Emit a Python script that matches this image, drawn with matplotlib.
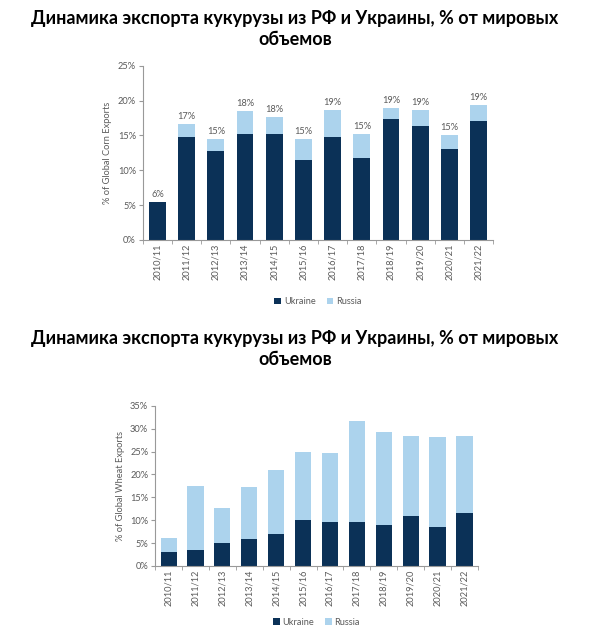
import matplotlib
matplotlib.use("Agg")
import matplotlib.pyplot as plt
import numpy as np

seasons = ["2010/11", "2011/12", "2012/13", "2013/14", "2014/15", "2015/16",
           "2016/17", "2017/18", "2018/19", "2019/20", "2020/21", "2021/22"]

# corn, % of global exports
corn_ukraine = [5.5, 14.7, 12.7, 15.2, 15.2, 11.4, 14.8, 11.7, 17.4, 16.4, 13.0, 17.1]
corn_russia = [0.0, 1.9, 1.8, 3.3, 2.5, 3.1, 3.9, 3.5, 1.6, 2.3, 2.1, 2.3]
corn_labels = ["6%", "17%", "15%", "18%", "18%", "15%", "19%", "15%", "19%", "19%", "15%", "19%"]

# wheat, % of global exports
wheat_ukraine = [3.1, 3.4, 4.9, 5.9, 6.9, 10.0, 9.7, 9.5, 8.9, 10.8, 8.4, 11.5]
wheat_russia = [2.9, 14.1, 7.8, 11.4, 14.1, 15.0, 15.0, 22.2, 20.3, 17.7, 19.8, 16.9]

title = "Динамика экспорта кукурузы из РФ и Украины, % от мировых\nобъемов"

DARK = "#0b3157"
LIGHT = "#acd3ed"
GRAY = "#5a5a5a"
FONT = ["Lato", "DejaVu Sans"]
FS = 6.7

plt.rcParams["font.family"] = FONT

fig = plt.figure(figsize=(5.9, 6.38), dpi=100)


def draw(ax, ukr, rus, ymax, ylabel, bar_w, labels=None):
    x = np.arange(len(seasons))
    ax.bar(x, ukr, width=bar_w, color=DARK, label="Ukraine")
    ax.bar(x, rus, width=bar_w, bottom=ukr, color=LIGHT, label="Russia")
    if labels:
        tot = np.array(ukr) + np.array(rus)
        for xi, t, lab in zip(x, tot, labels):
            ax.text(xi, t + 0.4, lab, ha="center", va="bottom", fontsize=FS, color=GRAY)
    ax.set_xlim(-0.5, len(seasons) - 0.5)
    ax.set_ylim(0, ymax)
    ax.set_yticks(np.arange(0, ymax + 0.1, 5))
    ax.set_yticklabels([f"{v:.0f}%" for v in np.arange(0, ymax + 0.1, 5)])
    ax.set_xticks(x)
    ax.set_xticklabels(seasons, rotation=90)
    ax.set_xticks(np.arange(-0.5, len(seasons), 1), minor=True)
    ax.tick_params(axis="x", which="major", length=0, labelsize=FS, colors=GRAY, pad=3)
    ax.tick_params(axis="x", which="minor", length=3, color="#999999", direction="out")
    ax.tick_params(axis="y", length=3, labelsize=FS, colors=GRAY, color="#999999", pad=2)
    for s in ["top", "right"]:
        ax.spines[s].set_visible(False)
    for s in ["left", "bottom"]:
        ax.spines[s].set_color("#999999")
        ax.spines[s].set_linewidth(0.8)
    ax.set_ylabel(ylabel, fontsize=FS, color=GRAY, labelpad=4)


ax1 = fig.add_axes([0.242, 0.624, 0.594, 0.273])
draw(ax1, corn_ukraine, corn_russia, 25, "% of Global Corn Exports", 0.58, corn_labels)
ax1.legend(loc="upper center", bbox_to_anchor=(0.5, -0.28), ncol=2, frameon=False,
           fontsize=FS, handlelength=0.7, handleheight=0.7, handletextpad=0.3,
           columnspacing=1.2, labelcolor=GRAY)

ax2 = fig.add_axes([0.263, 0.113, 0.547, 0.251])
draw(ax2, wheat_ukraine, wheat_russia, 35, "% of Global Wheat Exports", 0.6)
ax2.legend(loc="upper center", bbox_to_anchor=(0.5, -0.27), ncol=2, frameon=False,
           fontsize=FS, handlelength=0.7, handleheight=0.7, handletextpad=0.3,
           columnspacing=1.2, labelcolor=GRAY)

fig.text(0.5, 1 - 29 / 638, title, ha="center", va="center", fontsize=13,
         fontweight="bold", linespacing=1.25)
fig.text(0.5, 1 - 349 / 638, title, ha="center", va="center", fontsize=13,
         fontweight="bold", linespacing=1.25)

fig.savefig("out.png", dpi=100)
